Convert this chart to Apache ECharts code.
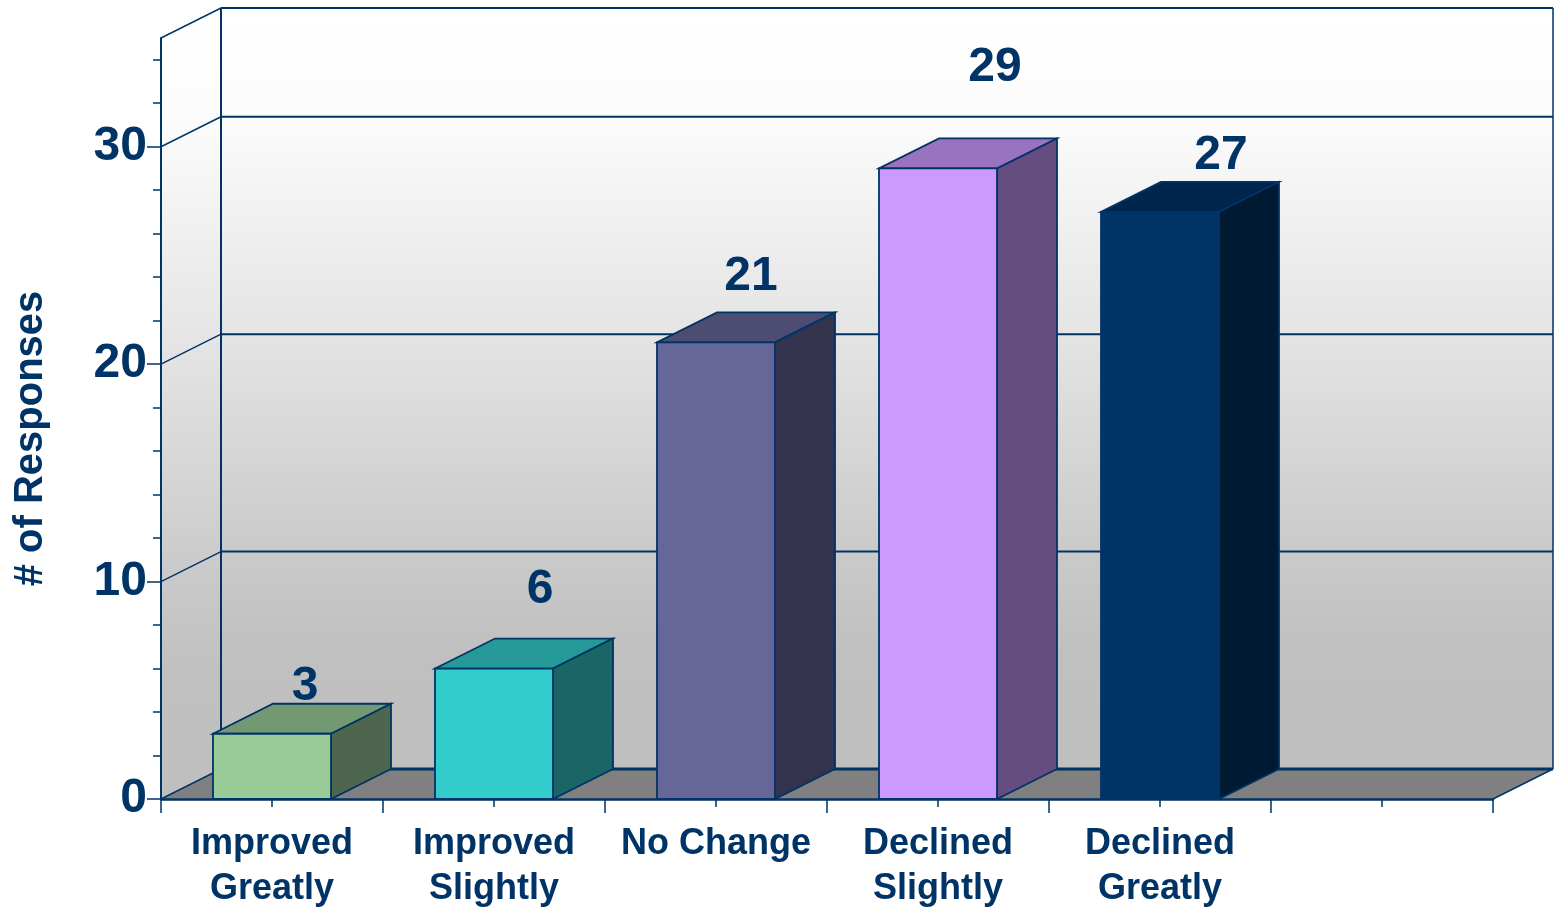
<!DOCTYPE html>
<html>
<head>
<meta charset="utf-8">
<style>html,body{margin:0;padding:0;background:#fff}#c{width:1556px;height:907px}</style>
<script src="https://cdn.jsdelivr.net/npm/echarts@6/dist/echarts.min.js"></script>
</head>
<body>
<div id="c"></div>
<script>
const categories = ['Improved\nGreatly', 'Improved\nSlightly', 'No Change', 'Declined\nSlightly', 'Declined\nGreatly', ''];
const responses = [3, 6, 21, 29, 27];
const frontColors = ['#99CC99', '#33CCCC', '#666699', '#CC99FF', '#003366'];
const topColors = ['#739973', '#269999', '#4D4D73', '#9973BF', '#00264D'];
const sideColors = ['#4D664D', '#1A6666', '#33334D', '#664D80', '#001A33'];
const majorTicks = [0, 10, 20, 30];
const minorTicks = [0, 2, 4, 6, 8, 10, 12, 14, 16, 18, 20, 22, 24, 26, 28, 30, 32, 34];

const INK = '#003366';
const FONT = '"Liberation Sans", Arial, sans-serif';
const DX = 60, DY = -30, BAR_RATIO = 118 / 222;
// label shift from the top-front-centre of each bar
const labelShift = [[33, -47], [46, -79], [35, -66], [57, -101], [61, -56]];

const chart = echarts.init(document.getElementById('c'), null, {renderer: 'canvas'});

function poly(points, fill, stroke, lw) {
  return {type: 'polygon', shape: {points}, style: {fill, stroke, lineWidth: lw}};
}
function seg(x1, y1, x2, y2, lw) {
  return {type: 'line', shape: {x1, y1, x2, y2}, style: {stroke: INK, lineWidth: lw, fill: null}};
}

function renderRoom(params, api) {
  const band = api.size([1, 0])[0];
  const left = api.coord([0, 0])[0] - band / 2;
  const right = api.coord([categories.length - 1, 0])[0] + band / 2;
  const y0 = api.coord([0, 0])[1];
  const yT = api.coord([0, 35])[1];
  const wallFill = () => new echarts.graphic.LinearGradient(0, 0, 0, 1, [
    {offset: 0, color: '#FFFFFF'},
    {offset: 0.07, color: '#FEFEFE'},
    {offset: 0.147, color: '#FBFBFB'},
    {offset: 0.428, color: '#E4E4E4'},
    {offset: 0.713, color: '#CACACA'},
    {offset: 0.844, color: '#C0C0C0'},
    {offset: 1, color: '#BFBFBF'}
  ]);
  const kids = [];
  kids.push(poly([[left, y0], [left, yT], [left + DX, yT + DY], [left + DX, y0 + DY]], wallFill(), null, 0));
  kids.push(poly([[left + DX, yT + DY], [right + DX, yT + DY], [right + DX, y0 + DY], [left + DX, y0 + DY]], wallFill(), null, 0));
  kids.push(poly([[left, y0], [left + DX, y0 + DY], [right + DX, y0 + DY], [right, y0]], '#808080', null, 0));
  majorTicks.slice(1).forEach(v => {
    const y = api.coord([0, v])[1];
    kids.push(seg(left, y, left + DX, y + DY, 1.5));
    kids.push(seg(left + DX, y + DY, right + DX, y + DY, 2));
  });
  kids.push(seg(left, yT, left + DX, yT + DY, 1.5));
  kids.push(seg(left + DX, yT + DY, right + DX, yT + DY, 2));
  kids.push(seg(left + DX, yT + DY, left + DX, y0 + DY, 2));
  kids.push(seg(right + DX, yT + DY, right + DX, y0 + DY, 1.5));
  kids.push(seg(left, y0, left + DX, y0 + DY, 1.5));
  kids.push(seg(left + DX, y0 + DY, right + DX, y0 + DY, 3));
  kids.push(seg(right, y0, right + DX, y0 + DY, 1.5));
  return {type: 'group', children: kids};
}

function renderBar(params, api) {
  const i = api.value(0), v = api.value(1);
  const [cx, yTop] = api.coord([i, v]);
  const y0 = api.coord([i, 0])[1];
  const w = api.size([1, 0])[0] * BAR_RATIO;
  const x1 = cx - w / 2, x2 = cx + w / 2;
  return {type: 'group', children: [
    poly([[x1, yTop], [x2, yTop], [x2 + DX, yTop + DY], [x1 + DX, yTop + DY]], topColors[i], INK, 1.8),
    poly([[x2, yTop], [x2 + DX, yTop + DY], [x2 + DX, y0 + DY], [x2, y0]], sideColors[i], INK, 1.8),
    poly([[x1, yTop], [x2, yTop], [x2, y0], [x1, y0]], frontColors[i], INK, 1.8),
    {type: 'text', z2: 20, style: {
      text: String(v), x: cx + labelShift[i][0], y: yTop + labelShift[i][1],
      fill: INK, font: 'bold 48px ' + FONT, align: 'center', verticalAlign: 'middle'
    }}
  ]};
}

chart.setOption({
  animation: false,
  backgroundColor: '#FFFFFF',
  grid: {left: 161, right: 63, top: 38, bottom: 108, containLabel: false, outerBoundsMode: 'none'},
  xAxis: [
    {
      type: 'category', data: categories, position: 'bottom', boundaryGap: true,
      axisLine: {show: true, lineStyle: {color: INK, width: 2.5}},
      axisTick: {show: true, interval: 0, length: 14, lineStyle: {color: INK, width: 1.5}},
      axisLabel: {show: true, interval: 0, margin: 23, color: INK, fontFamily: FONT, fontWeight: 'bold', fontSize: 36, lineHeight: 45, align: 'center'}
    },
    {
      type: 'category', data: categories, position: 'bottom', boundaryGap: true,
      axisLine: {show: false},
      axisTick: {show: true, interval: 0, alignWithLabel: true, length: 8, lineStyle: {color: INK, width: 1.5}},
      axisLabel: {show: false}
    }
  ],
  yAxis: [
    {
      type: 'value', min: 0, max: 35, position: 'left', interval: 10,
      name: '# of Responses', nameLocation: 'middle', nameGap: 110, nameRotate: 90, nameMoveOverlap: false,
      nameTextStyle: {color: INK, fontFamily: FONT, fontWeight: 'bold', fontSize: 40, padding: [0, 40, 0, 0]},
      splitLine: {show: false},
      axisLine: {show: true, lineStyle: {color: INK, width: 2}},
      axisTick: {show: true, length: 14, customValues: majorTicks, lineStyle: {color: INK, width: 1.5}},
      axisLabel: {show: true, customValues: majorTicks, margin: 14, color: INK, fontFamily: FONT, fontWeight: 'bold', fontSize: 48}
    },
    {
      type: 'value', min: 0, max: 35, position: 'left', interval: 10,
      splitLine: {show: false},
      axisLine: {show: false},
      axisTick: {show: true, length: 8, customValues: minorTicks, lineStyle: {color: INK, width: 1.5}},
      axisLabel: {show: false}
    }
  ],
  series: [
    {type: 'custom', z: -1, silent: true, renderItem: renderRoom, clip: false, data: [[0, 0]], encode: {x: 0, y: 1}},
    {type: 'custom', z: 5, silent: true, renderItem: renderBar, clip: false, data: responses.map((v, i) => [i, v]), encode: {x: 0, y: 1}}
  ]
});
</script>
</body>
</html>
